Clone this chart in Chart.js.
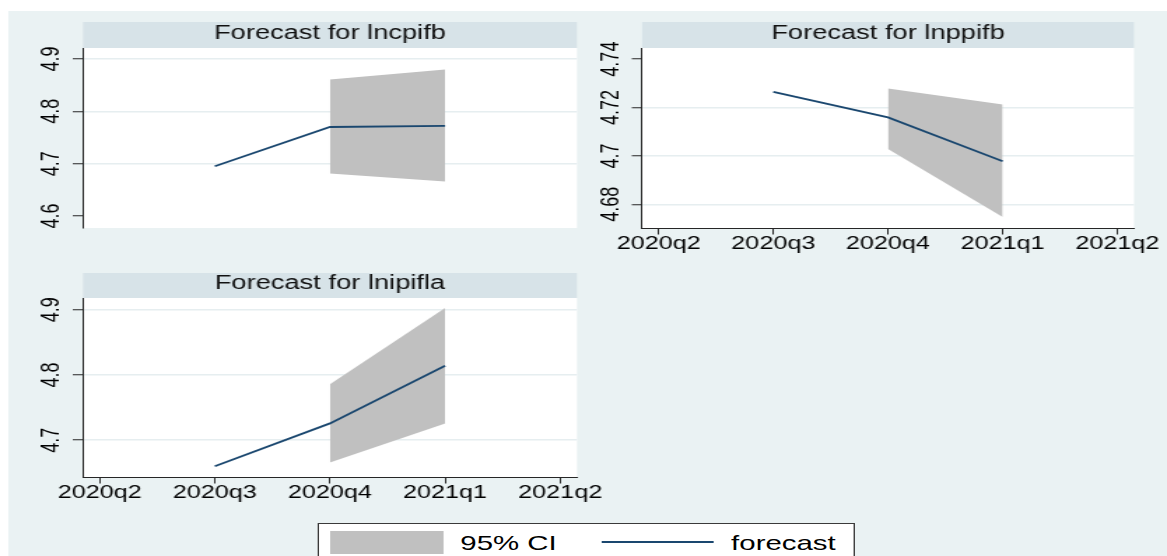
<!DOCTYPE html>
<html>
<head>
<meta charset="utf-8">
<script src="https://cdn.jsdelivr.net/npm/chart.js@4.4.1/dist/chart.umd.min.js"></script>
<style>
  html, body { margin: 0; padding: 0; background: #ffffff; overflow: hidden; }
  #fig {
    position: absolute; left: 0; top: 0; width: 834px; height: 556px;
    transform-origin: 0 0; transform: scaleX(1.39928);
    font-family: "Liberation Sans", Arial, sans-serif;
  }
  #bg { position: absolute; left: 5.7px; top: 11px; right: 0; bottom: 0; background: #eaf2f3; }
  canvas { position: absolute; }
  #legend {
    position: absolute; left: 226.5px; top: 522.7px; width: 384px; height: 44px;
    background: #ffffff; border: 1px solid #3a3a3a; box-sizing: border-box;
  }
  #legend .swatch { position: absolute; left: 8px; top: 7px; width: 81.5px; height: 23px; background: #c0c0c0; }
  #legend .line { position: absolute; left: 202.5px; top: 17.5px; width: 79.6px; height: 1.8px; background: #1a476f; }
  #legend .txt { position: absolute; top: 8.5px; font-size: 21px; line-height: 21px; color: #000; white-space: nowrap; }
</style>
</head>
<body>
<div id="fig">
  <div id="bg"></div>
  <canvas id="panelCpi" width="420" height="250" style="left:0;top:0;width:420px;height:250px"></canvas>
  <canvas id="panelPpi" width="434" height="265" style="left:400px;top:0;width:434px;height:265px"></canvas>
  <canvas id="panelIpi" width="440" height="265" style="left:0;top:250px;width:440px;height:265px"></canvas>
  <div id="legend">
    <div class="swatch"></div>
    <div class="txt" style="left:101.5px">95% CI</div>
    <div class="line"></div>
    <div class="txt" style="left:295px">forecast</div>
  </div>
</div>
<script>
// Quarterly time axis shared by all three panels
const quarters = ['2020q2', '2020q3', '2020q4', '2021q1', '2021q2'];

// lncpifb: point forecast and 95% interval bounds, aligned with quarters
const lncpifbForecast = [null, 4.695, 4.770, 4.772, null];
const lncpifbLower    = [null, null, 4.681, 4.666, null];
const lncpifbUpper    = [null, null, 4.861, 4.880, null];

// lnppifb
const lnppifbForecast = [null, 4.7265, 4.7159, 4.6978, null];
const lnppifbLower    = [null, null, 4.7029, 4.6747, null];
const lnppifbUpper    = [null, null, 4.7279, 4.7212, null];

// lnipifla
const lnipiflaForecast = [null, 4.660, 4.7257, 4.814, null];
const lnipiflaLower    = [null, null, 4.6657, 4.7257, null];
const lnipiflaUpper    = [null, null, 4.7857, 4.9026, null];

// Labelled y ticks per panel
const lncpifbTicks  = [4.6, 4.7, 4.8, 4.9];
const lnppifbTicks  = [4.68, 4.7, 4.72, 4.74];
const lnipiflaTicks = [4.7, 4.8, 4.9];

const FONT_FAMILY = '"Liberation Sans", Arial, sans-serif';
const NAVY = '#1a476f';
const CI_FILL = '#c0c0c0';
const AXIS = '#262626';
const GRID = '#e6eef0';
const BAND = '#d7e3e8';
const TICK_FONT = { family: FONT_FAMILY, size: 18 };
const Y_TICK_LEN = 7.3;
const X_TICK_LEN = 6.5;

function toPoints(values) {
  return values.map((v, i) => (v == null ? null : { x: i, y: v })).filter(Boolean);
}

// Widest tick label, used to centre the rotated y labels at a fixed distance from the axis
function widestLabel(values) {
  const c = document.createElement('canvas').getContext('2d');
  c.font = '18px ' + FONT_FAMILY;
  return Math.max(...values.map(v => c.measureText(String(v)).width));
}

// White plot region plus the shaded title band above it
const panelFrame = {
  id: 'panelFrame',
  beforeDraw(chart, args, opts) {
    const { ctx, chartArea: a } = chart;
    ctx.save();
    ctx.fillStyle = '#ffffff';
    ctx.fillRect(a.left, a.top, a.right - a.left, a.bottom - a.top);
    ctx.fillStyle = BAND;
    ctx.fillRect(a.left, a.top - opts.bandHeight, a.right - a.left, opts.bandHeight);
    ctx.fillStyle = '#111111';
    ctx.font = '19.5px ' + FONT_FAMILY;
    ctx.textAlign = 'center';
    ctx.textBaseline = 'alphabetic';
    ctx.fillText(opts.title, (a.left + a.right) / 2, a.top - 9);
    ctx.restore();
  }
};

function makePanel(p) {
  const yPad = 21.8 - Y_TICK_LEN - widestLabel(p.yTicks) / 2;
  return new Chart(document.getElementById(p.id), {
    type: 'line',
    data: {
      datasets: [
        { label: 'forecast', data: toPoints(p.forecast), borderColor: NAVY, borderWidth: 1.8,
          pointRadius: 0, fill: false, tension: 0 },
        { label: 'lower', data: toPoints(p.lower), borderWidth: 0, borderColor: 'rgba(0,0,0,0)',
          pointRadius: 0, fill: false },
        { label: '95% CI', data: toPoints(p.upper), borderWidth: 0, borderColor: 'rgba(0,0,0,0)',
          pointRadius: 0, backgroundColor: CI_FILL, fill: '-1' }
      ]
    },
    options: {
      responsive: false,
      animation: false,
      events: [],
      layout: { padding: p.padding },
      plugins: {
        legend: { display: false },
        tooltip: { enabled: false },
        title: { display: false },
        panelFrame: { title: p.title, bandHeight: p.bandHeight }
      },
      scales: {
        x: {
          type: 'linear',
          min: -0.145,
          max: quarters.length - 1 + 0.145,
          display: p.showX,
          afterBuildTicks: s => { s.ticks = quarters.map((q, i) => ({ value: i })); },
          afterFit: s => { if (p.xHeight) s.height = p.xHeight; },
          ticks: { callback: v => quarters[v], font: TICK_FONT, color: '#000', padding: -0.8,
                   maxRotation: 0, autoSkip: false },
          grid: { drawOnChartArea: false, drawTicks: true, tickLength: X_TICK_LEN,
                  tickColor: AXIS, tickWidth: 1 },
          border: { display: true, color: AXIS, width: 1 }
        },
        y: {
          type: 'linear',
          min: p.yMin,
          max: p.yMax,
          afterBuildTicks: s => { s.ticks = p.yTicks.map(v => ({ value: v })); },
          afterFit: s => { s.width = p.yWidth; },
          ticks: { callback: v => String(v), font: TICK_FONT, color: '#000', padding: yPad,
                   minRotation: 90, maxRotation: 90, crossAlign: 'center', autoSkip: false },
          grid: {
            color: c => (c.tick && p.noGrid.includes(c.tick.value) ? 'rgba(0,0,0,0)' : GRID),
            lineWidth: 1.5, drawTicks: true, tickLength: Y_TICK_LEN, tickColor: AXIS, tickWidth: 1
          },
          border: { display: true, color: AXIS, width: 1 }
        }
      }
    },
    plugins: [panelFrame]
  });
}

makePanel({
  id: 'panelCpi', title: 'Forecast for lncpifb',
  forecast: lncpifbForecast, lower: lncpifbLower, upper: lncpifbUpper,
  yTicks: lncpifbTicks, yMin: 4.577, yMax: 4.921, noGrid: [4.6],
  showX: false, padding: { left: 0, top: 48, right: 7.7, bottom: 22 },
  yWidth: 59.3, bandHeight: 26
});

makePanel({
  id: 'panelPpi', title: 'Forecast for lnppifb',
  forecast: lnppifbForecast, lower: lnppifbLower, upper: lnppifbUpper,
  yTicks: lnppifbTicks, yMin: 4.6702, yMax: 4.7446, noGrid: [4.74],
  showX: true, xHeight: 37, padding: { left: 0, top: 48, right: 23.6, bottom: 0 },
  yWidth: 58.8, bandHeight: 26
});

makePanel({
  id: 'panelIpi', title: 'Forecast for lnipifla',
  forecast: lnipiflaForecast, lower: lnipiflaLower, upper: lnipiflaUpper,
  yTicks: lnipiflaTicks, yMin: 4.6435, yMax: 4.918, noGrid: [],
  showX: true, xHeight: 38, padding: { left: 0, top: 48, right: 27.7, bottom: 0 },
  yWidth: 59.3, bandHeight: 25
});
</script>
</body>
</html>
